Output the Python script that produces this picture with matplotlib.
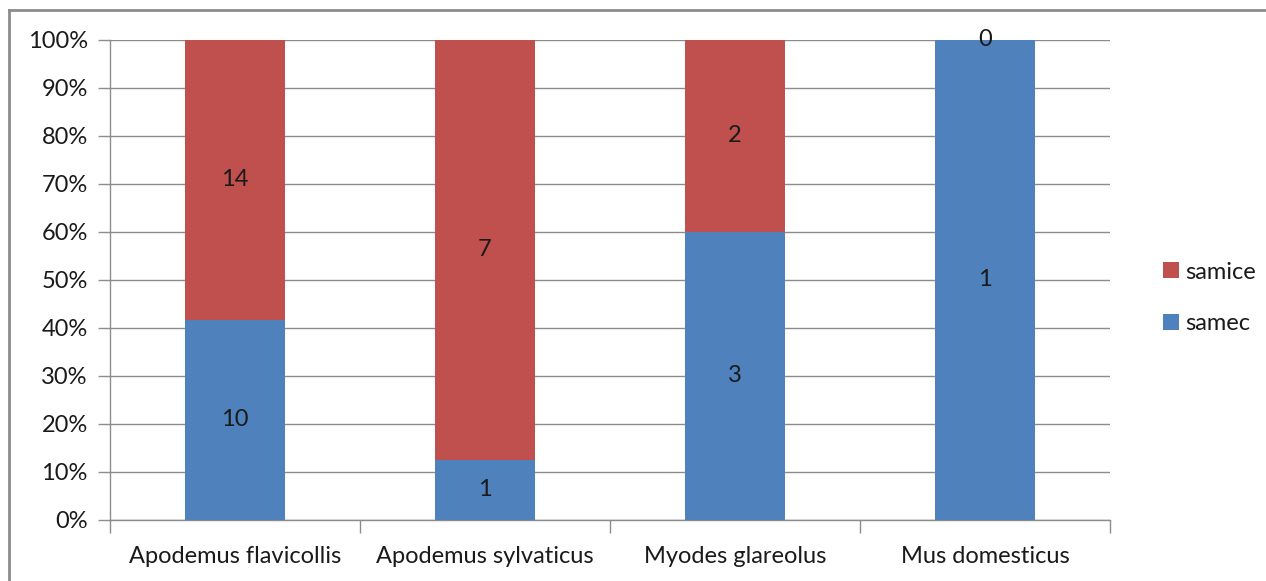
import matplotlib.pyplot as plt
import numpy as np
from matplotlib.lines import Line2D

species = ['Apodemus flavicollis', 'Apodemus sylvaticus', 'Myodes glareolus', 'Mus domesticus']
samec = [10, 1, 3, 1]
samice = [14, 7, 2, 0]

plt.rcParams['font.family'] = ['Lato', 'DejaVu Sans']

total = np.array(samec) + np.array(samice)
pct_samec = np.array(samec) / total * 100
pct_samice = np.array(samice) / total * 100

fig = plt.figure(figsize=(12.66, 5.81), dpi=100)
ax = fig.add_axes([110 / 1266, 1 - 520 / 581, 1000 / 1266, 480 / 581])

fs = 17
x = np.arange(len(species))
width = 0.4
r1 = ax.bar(x, pct_samec, width, color='#4F81BD', label='samec', zorder=3)
r2 = ax.bar(x, pct_samice, width, bottom=pct_samec, color='#C0504D', label='samice', zorder=3)
ax.bar_label(r1, labels=[str(v) for v in samec], label_type='center', fontsize=fs, color='#1a1a1a')
ax.bar_label(r2, labels=[str(v) for v in samice], label_type='center', fontsize=fs, color='#1a1a1a')

ax.set_xlim(-0.5, len(species) - 0.5)
ax.set_ylim(0, 100)
ax.set_yticks(np.arange(0, 101, 10))
ax.set_yticklabels([f'{v}%' for v in range(0, 101, 10)])
ax.yaxis.grid(True, color='#8c8c8c', linewidth=1, zorder=0)
ax.tick_params(axis='y', length=9, width=1, color='#8c8c8c', labelsize=fs, pad=7, labelcolor='#1a1a1a')

# category names centred, tick marks on the boundaries
ax.set_xticks(x)
ax.set_xticklabels(species)
ax.tick_params(axis='x', length=0, labelsize=fs, pad=19, labelcolor='#1a1a1a')
ax.set_xticks(np.arange(-0.5, len(species), 1), minor=True)
ax.tick_params(axis='x', which='minor', length=9, width=1, color='#8c8c8c')

for s in ['top', 'right']:
    ax.spines[s].set_visible(False)
for s in ['left', 'bottom']:
    ax.spines[s].set_color('#8c8c8c')
    ax.spines[s].set_linewidth(1)

handles, labels = ax.get_legend_handles_labels()
fig.legend(handles[::-1], labels[::-1], loc='center left',
           bbox_to_anchor=(1142 / 1266, 1 - 298 / 581), frameon=False,
           fontsize=fs, handlelength=0.65, handleheight=0.65, handletextpad=0.3,
           labelspacing=1.3, labelcolor='#1a1a1a')

# outer chart frame
fig.add_artist(Line2D([9 / 1266, 9 / 1266], [0, 1 - 10 / 581], transform=fig.transFigure,
                      color='#8c8c8c', linewidth=2))
fig.add_artist(Line2D([9 / 1266, 1], [1 - 10 / 581, 1 - 10 / 581], transform=fig.transFigure,
                      color='#8c8c8c', linewidth=2))

plt.savefig('out.png', dpi=100)
